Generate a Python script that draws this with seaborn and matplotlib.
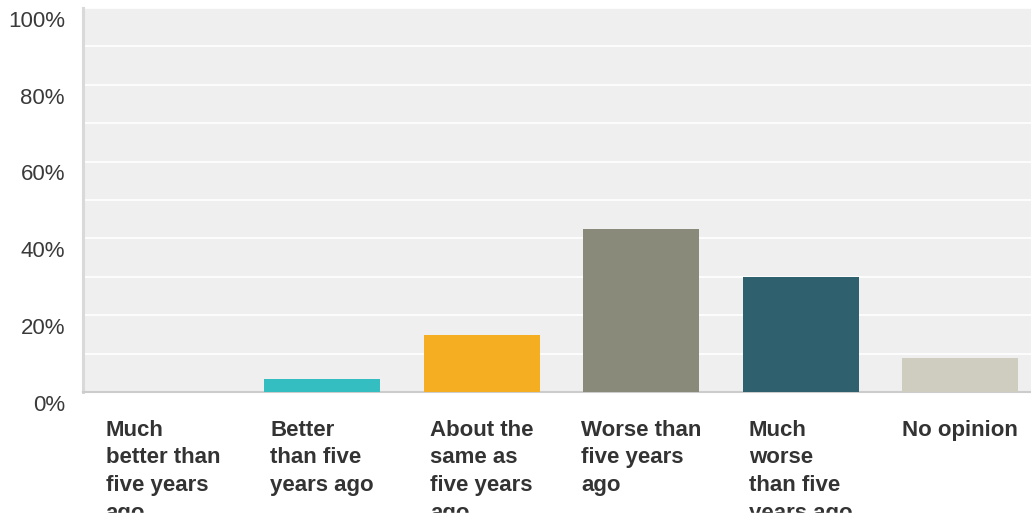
import matplotlib
matplotlib.use("Agg")
import matplotlib.pyplot as plt
import matplotlib.transforms as mtransforms
from matplotlib.patches import Rectangle
import seaborn as sns
import pandas as pd

# ── Data ────────────────────────────────────────────────────────────────────
categories = ["Much\nbetter than\nfive years\nago",
              "Better\nthan five\nyears ago",
              "About the\nsame as\nfive years\nago",
              "Worse than\nfive years\nago",
              "Much\nworse\nthan five\nyears ago",
              "No opinion"]
values = [0.0, 3.4, 14.8, 42.4, 29.9, 8.9]
colors = ["#35bec1", "#35bec1", "#f5ae22", "#898a7a", "#2f606e", "#cfcdbf"]
y_ticks = [0, 20, 40, 60, 80, 100]

# ── Figure ──────────────────────────────────────────────────────────────────
W, H = 1031, 521
fig = plt.figure(figsize=(W / 100, H / 100), dpi=100)
ax = fig.add_axes([83 / W, (H - 392) / H, 957 / W, 384 / H])
plt.rcParams["font.family"] = ["Liberation Sans", "DejaVu Sans"]

df = pd.DataFrame({"cat": categories, "val": values})
sns.barplot(data=df, x="cat", y="val", hue="cat", palette=colors,
            legend=False, width=0.727, saturation=1, ax=ax, zorder=3)

ax.set_facecolor("#efefef")
ax.set_xlim(-0.5, 5.5)
ax.set_ylim(0, 100)

# gridlines every 10 %, labels every 20 %
ax.set_yticks(range(0, 101, 10))
ax.set_yticklabels([f"{v}%" if v in y_ticks else "" for v in range(0, 101, 10)],
                   fontsize=16, color="#3a3a3a", family="Liberation Sans")
ax.yaxis.grid(True, color="white", linewidth=1.2, zorder=1)
ax.set_axisbelow(True)
ax.tick_params(axis="y", length=0, pad=13)
shift = mtransforms.ScaledTranslation(0, -2 / 72, fig.dpi_scale_trans)
for lab in ax.get_yticklabels():
    lab.set_verticalalignment("top")
    lab.set_transform(lab.get_transform() + shift)

ax.set_xticks(range(len(categories)))
ax.set_xticklabels(categories, fontsize=16, fontweight="bold", color="#333333",
                   family="Liberation Sans", linespacing=1.42,
                   multialignment="left")
ax.tick_params(axis="x", length=0, pad=20)

ax.set_xlabel("")
ax.set_ylabel("")
for s in ["top", "right"]:
    ax.spines[s].set_visible(False)
ax.spines["left"].set_color("#d9d9d9")
ax.spines["left"].set_linewidth(2.2)
ax.spines["bottom"].set_color("#cccccc")
ax.spines["bottom"].set_linewidth(1.5)

# bottom strip hides the cut-off label lines
fig.patches.append(Rectangle((0, 0), 1, 8 / H, transform=fig.transFigure,
                             color="white", zorder=10))

fig.savefig("out.png", dpi=100)
